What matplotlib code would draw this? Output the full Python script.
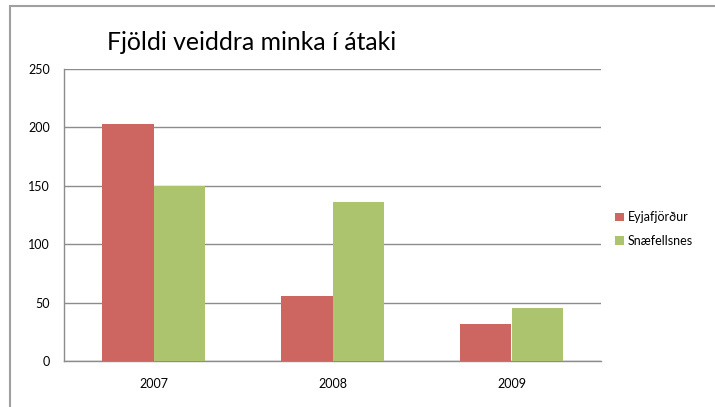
import matplotlib
matplotlib.use("Agg")
import matplotlib.pyplot as plt
import numpy as np
from matplotlib.patches import Rectangle

years = ["2007", "2008", "2009"]
series_names = ["Eyjafjörður", "Snæfellsnes"]
eyjafjordur = [203, 56, 32]
snaefellsnes = [150, 136, 45]
colors = ["#CD6660", "#ABC46D"]

plt.rcParams['font.family'] = ['Lato', 'DejaVu Sans']

W, H = 715, 407
fig = plt.figure(figsize=(W/100, H/100), dpi=100)
ax = fig.add_axes([64/W, 1-361/H, (601-64)/W, (361-69)/H])

x = np.arange(len(years))
bw = 0.285
ax.bar(x - bw/2, eyjafjordur, bw, color=colors[0], label=series_names[0], zorder=3)
ax.bar(x + bw/2, snaefellsnes, bw, color=colors[1], label=series_names[1], zorder=3)

ax.set_xlim(-0.5, 2.5)
ax.set_ylim(0, 250)
ax.set_yticks([0, 50, 100, 150, 200, 250])
ax.set_xticks(x)
ax.set_xticklabels(years)
ax.yaxis.grid(True, color="#8C8C8C", linewidth=1.0, zorder=0)
ax.tick_params(axis='both', length=0, labelsize=9, pad=10)
ax.tick_params(axis='x', pad=12)
for s in ["top", "right"]:
    ax.spines[s].set_visible(False)
for s in ["left", "bottom"]:
    ax.spines[s].set_color("#8C8C8C")
    ax.spines[s].set_linewidth(1.0)

fig.text(107/W, 1-42/H, "Fjöldi veiddra minka í átaki", fontsize=17.8, va="center", ha="left")

leg = fig.legend(loc="center left", bbox_to_anchor=(604/W, 1-229/H), frameon=False,
                 fontsize=9, handlelength=0.7, handleheight=0.7, handletextpad=0.3, labelspacing=0.9)

fig.patches.append(Rectangle((10/W, -0.1), 1.2, 1.1 - 6.5/H, transform=fig.transFigure,
                             fill=False, edgecolor="#A0A0A0", linewidth=1.5))

fig.savefig("out.png", dpi=100)
